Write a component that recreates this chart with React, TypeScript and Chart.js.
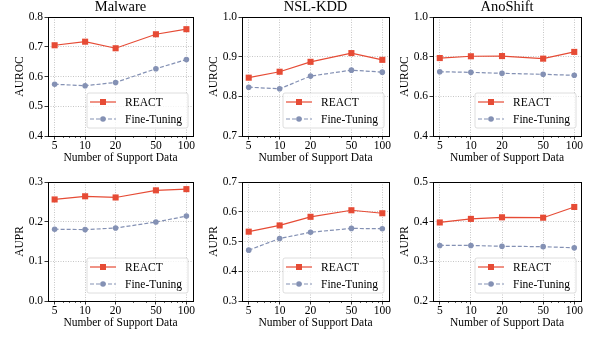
import React, { useEffect, useRef } from "react";
import { Chart, registerables } from "chart.js";
Chart.register(...registerables);

// ---------- data ----------
const supportSizes = [5, 10, 20, 50, 100];
const minorSupportTicks = [6, 7, 8, 9, 30, 40, 60, 70, 80, 90];
const seriesNames = ["REACT", "Fine-Tuning"];
const datasetTitles = ["Malware", "NSL-KDD", "AnoShift"];
const metricLabels = ["AUROC", "AUPR"];
const xAxisTitle = "Number of Support Data";

const malwareAurocReact = [0.705, 0.717, 0.695, 0.742, 0.759];
const malwareAurocFT = [0.574, 0.569, 0.58, 0.626, 0.657];
const nslAurocReact = [0.847, 0.862, 0.887, 0.909, 0.892];
const nslAurocFT = [0.823, 0.819, 0.851, 0.866, 0.861];
const anoAurocReact = [0.793, 0.802, 0.803, 0.79, 0.824];
const anoAurocFT = [0.724, 0.721, 0.716, 0.711, 0.706];

const malwareAuprReact = [0.256, 0.264, 0.261, 0.279, 0.282];
const malwareAuprFT = [0.181, 0.18, 0.184, 0.199, 0.214];
const nslAuprReact = [0.533, 0.554, 0.583, 0.605, 0.595];
const nslAuprFT = [0.471, 0.51, 0.531, 0.544, 0.543];
const anoAuprReact = [0.398, 0.407, 0.411, 0.41, 0.437];
const anoAuprFT = [0.34, 0.34, 0.338, 0.337, 0.334];

// y-axis ranges: [min, max, step]
const malwareAurocRange = [0.4, 0.8, 0.1];
const nslAurocRange = [0.7, 1.0, 0.1];
const anoAurocRange = [0.4, 1.0, 0.2];
const malwareAuprRange = [0.0, 0.3, 0.1];
const nslAuprRange = [0.3, 0.7, 0.1];
const anoAuprRange = [0.2, 0.5, 0.1];

// x range (log axis with 5% margins)
const xRange = [4.3, 116.2];

// ---------- layout / style ----------
const colLefts = [48, 242, 433];
const colWidths = [145, 147, 148];
const rowTops = [17, 182];
const plotHeight = 119;
const AXW = 48; // y-axis area width
const TOPPAD = 17;
const XAXH = 29;
const RIGHTPAD = 6;

const FONT = "'Liberation Serif', 'Times New Roman', serif";
const RED = "#E64B35";
const BLUE = "#8491B4";

type PanelProps = {
  left: number;
  top: number;
  width: number;
  height: number;
  title?: string;
  yLabel: string;
  react: number[];
  ft: number[];
  range: number[];
};

function Panel(p: PanelProps) {
  const ref = useRef<HTMLCanvasElement | null>(null);
  useEffect(() => {
    if (!ref.current) return;

    const overlay = {
      id: "overlay",
      afterDraw(chart: any) {
        const ctx = chart.ctx as CanvasRenderingContext2D;
        const a = chart.chartArea;
        const xs = chart.scales.x;
        ctx.save();
        // minor ticks
        ctx.strokeStyle = "#000";
        ctx.lineWidth = 0.6;
        minorSupportTicks.forEach((v) => {
          const px = Math.round(xs.getPixelForValue(v)) + 0.5;
          ctx.beginPath();
          ctx.moveTo(px, a.bottom);
          ctx.lineTo(px, a.bottom + 2);
          ctx.stroke();
        });
        // frame
        ctx.lineWidth = 1;
        ctx.strokeStyle = "#000";
        ctx.strokeRect(
          Math.round(a.left) + 0.5,
          Math.round(a.top) + 0.5,
          Math.round(a.right) - Math.round(a.left),
          Math.round(a.bottom) - Math.round(a.top)
        );
        // title
        if (p.title) {
          ctx.fillStyle = "#000";
          ctx.font = `14.5px ${FONT}`;
          ctx.textAlign = "center";
          ctx.textBaseline = "alphabetic";
          ctx.fillText(p.title, (a.left + a.right) / 2, a.top - 6);
        }
        // legend
        const bw = 101;
        const bh = 35;
        const bx = a.right - 5 - bw;
        const by = a.bottom - 8 - bh;
        const r = 2;
        ctx.beginPath();
        ctx.moveTo(bx + r, by);
        ctx.lineTo(bx + bw - r, by);
        ctx.quadraticCurveTo(bx + bw, by, bx + bw, by + r);
        ctx.lineTo(bx + bw, by + bh - r);
        ctx.quadraticCurveTo(bx + bw, by + bh, bx + bw - r, by + bh);
        ctx.lineTo(bx + r, by + bh);
        ctx.quadraticCurveTo(bx, by + bh, bx, by + bh - r);
        ctx.lineTo(bx, by + r);
        ctx.quadraticCurveTo(bx, by, bx + r, by);
        ctx.closePath();
        ctx.fillStyle = "rgba(255,255,255,0.8)";
        ctx.fill();
        ctx.strokeStyle = "#d6d6d6";
        ctx.lineWidth = 0.8;
        ctx.stroke();

        const items = [
          { name: seriesNames[0], color: RED, dash: [] as number[], shape: "rect" },
          { name: seriesNames[1], color: BLUE, dash: [4, 2], shape: "circle" },
        ];
        items.forEach((it, i) => {
          const y = by + 9 + i * 17;
          ctx.strokeStyle = it.color;
          ctx.lineWidth = 1.2;
          ctx.setLineDash(it.dash);
          ctx.beginPath();
          ctx.moveTo(bx + 3, y);
          ctx.lineTo(bx + 29, y);
          ctx.stroke();
          ctx.setLineDash([]);
          ctx.fillStyle = it.color;
          const mx = bx + 16;
          if (it.shape === "rect") {
            ctx.fillRect(mx - 3, y - 3, 6, 6);
          } else {
            ctx.beginPath();
            ctx.arc(mx, y, 2.8, 0, Math.PI * 2);
            ctx.fill();
          }
          ctx.fillStyle = "#000";
          ctx.font = `11.5px ${FONT}`;
          ctx.textAlign = "left";
          ctx.textBaseline = "middle";
          ctx.fillText(it.name, bx + 38, y + 0.5);
        });
        ctx.restore();
      },
    };

    const tickFont = { family: FONT, size: 11.5, lineHeight: 1.2 };
    const chart = new Chart(ref.current, {
      type: "line",
      data: {
        datasets: [
          {
            label: seriesNames[0],
            data: supportSizes.map((x, i) => ({ x, y: p.react[i] })),
            borderColor: RED,
            backgroundColor: RED,
            borderWidth: 1.2,
            pointStyle: "rect",
            pointRadius: 4.3,
            pointBorderWidth: 0,
            tension: 0,
          },
          {
            label: seriesNames[1],
            data: supportSizes.map((x, i) => ({ x, y: p.ft[i] })),
            borderColor: BLUE,
            backgroundColor: BLUE,
            borderWidth: 1.2,
            borderDash: [4, 2],
            pointStyle: "circle",
            pointRadius: 2.8,
            pointBorderWidth: 0,
            tension: 0,
          },
        ],
      },
      options: {
        animation: false,
        responsive: false,
        maintainAspectRatio: false,
        layout: { padding: { top: TOPPAD, right: RIGHTPAD, left: 0, bottom: 0 } },
        plugins: {
          legend: { display: false },
          tooltip: { enabled: false },
          title: { display: false },
        },
        scales: {
          x: {
            type: "logarithmic",
            min: xRange[0],
            max: xRange[1],
            afterBuildTicks: (s: any) => {
              s.ticks = supportSizes.map((v) => ({ value: v }));
            },
            afterFit: (s: any) => {
              s.height = XAXH;
            },
            ticks: {
              callback: (v: any) => String(v),
              font: tickFont,
              color: "#000",
              padding: 0,
              maxRotation: 0,
              autoSkip: false,
            },
            grid: {
              color: "#b8b8b8",
              lineWidth: 0.8,
              tickColor: "#000",
              tickLength: 3.5,
              tickWidth: 0.8,
              tickBorderDash: [],
            },
            border: { display: false, dash: [1, 1.5] },
            title: {
              display: true,
              text: xAxisTitle,
              font: tickFont,
              color: "#000",
              padding: { top: 0, bottom: 0 },
            },
          },
          y: {
            type: "linear",
            min: p.range[0],
            max: p.range[1],
            afterFit: (s: any) => {
              s.width = AXW;
            },
            ticks: {
              stepSize: p.range[2],
              callback: (v: any) => Number(v).toFixed(1),
              font: tickFont,
              color: "#000",
              padding: 1.5,
            },
            grid: {
              color: "#b8b8b8",
              lineWidth: 0.8,
              tickColor: "#000",
              tickLength: 3.5,
              tickWidth: 0.8,
              tickBorderDash: [],
            },
            border: { display: false, dash: [1, 1.5] },
            title: {
              display: true,
              text: p.yLabel,
              font: tickFont,
              color: "#000",
              padding: { top: 13, bottom: 0 },
            },
          },
        },
      },
      plugins: [overlay],
    } as any);
    return () => chart.destroy();
  }, []);

  const cw = AXW + p.width + RIGHTPAD;
  const ch = TOPPAD + p.height + XAXH;
  return (
    <canvas
      ref={ref}
      width={cw}
      height={ch}
      style={{
        position: "absolute",
        left: p.left - AXW,
        top: p.top - TOPPAD,
        width: cw,
        height: ch,
      }}
    />
  );
}

export default function App() {
  useEffect(() => {
    document.body.style.margin = "0";
  }, []);
  const rows = [
    {
      label: metricLabels[0],
      react: [malwareAurocReact, nslAurocReact, anoAurocReact],
      ft: [malwareAurocFT, nslAurocFT, anoAurocFT],
      ranges: [malwareAurocRange, nslAurocRange, anoAurocRange],
      titles: true,
    },
    {
      label: metricLabels[1],
      react: [malwareAuprReact, nslAuprReact, anoAuprReact],
      ft: [malwareAuprFT, nslAuprFT, anoAuprFT],
      ranges: [malwareAuprRange, nslAuprRange, anoAuprRange],
      titles: false,
    },
  ];
  return (
    <div
      style={{
        position: "relative",
        width: 590,
        height: 339,
        background: "#fff",
        overflow: "hidden",
      }}
    >
      {rows.map((row, ri) =>
        [0, 1, 2].map((ci) => (
          <Panel
            key={`${ri}-${ci}`}
            left={colLefts[ci]}
            top={rowTops[ri]}
            width={colWidths[ci]}
            height={plotHeight}
            title={row.titles ? datasetTitles[ci] : undefined}
            yLabel={row.label}
            react={row.react[ci]}
            ft={row.ft[ci]}
            range={row.ranges[ci]}
          />
        ))
      )}
    </div>
  );
}
